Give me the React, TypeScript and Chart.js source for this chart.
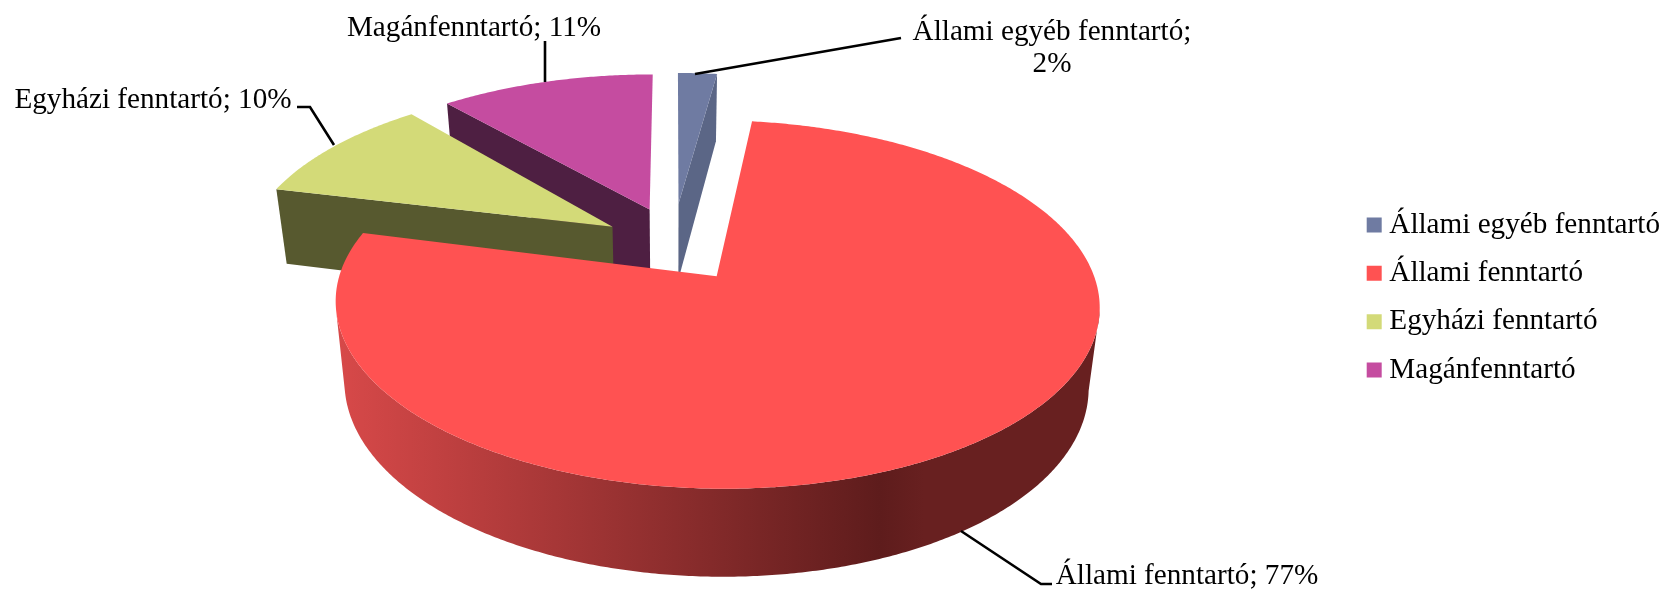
import React, { useEffect, useRef } from "react";
import { Chart, registerables } from "chart.js";

Chart.register(...registerables);

const categories = ["Állami egyéb fenntartó", "Állami fenntartó", "Egyházi fenntartó", "Magánfenntartó"];
const shares = [2, 77, 10, 11];

const topColors = ["#6F7BA2", "#FF5252", "#D3DA78", "#C54CA0"];
const sideColors = ["#5B6686", "#682020", "#57592F", "#4E1F42"];
const drawOrder = [0, 3, 2, 1];
const apexLift = [10, 0, 2, 6];

const FONT = '"Liberation Serif", "Times New Roman", serif';
const FONT_SIZE = 29.2;
const RADIUS = 368;
const EXPLODE = 74;
const CX = 674;
const CY = 247;
const RY = 171;
const PERSPECTIVE = 0.15;
const BOTTOM_SCALE = 0.974;
const WALL_FROM = 0.18;

const labelLayout = [
  { lines: ["Állami egyéb fenntartó;", "2%"], x: 1052, y: 32, lead: [[695, 74], [901, 38]] },
  { lines: ["Állami fenntartó; 77%"], x: 1187, y: 576, lead: [[961, 531], [1041, 584], [1052, 584]] },
  { lines: ["Egyházi fenntartó; 10%"], x: 153, y: 100, lead: [[297, 107], [310, 107], [334, 145]] },
  { lines: ["Magánfenntartó; 11%"], x: 474, y: 28, lead: [[545, 41], [545, 82]] },
];

type P = [number, number, number?];

function project(p: P, bottom: boolean): [number, number] {
  const [u, v, lift] = p;
  const w = 1 - PERSPECTIVE * v;
  let x = CX + (RADIUS * u) / w;
  let y = CY + (RY * v) / w - (lift || 0);
  if (bottom) {
    x = CX + (x - CX) * BOTTOM_SCALE;
    y += 136.7 - 59 * w;
  }
  return [x, y];
}

function fillWall(ctx: any, pts: P[], fill: any) {
  const top = pts.map((p) => project(p, false));
  const bot = pts.map((p) => project(p, true)).reverse();
  ctx.beginPath();
  [...top, ...bot].forEach((p, k) => (k ? ctx.lineTo(p[0], p[1]) : ctx.moveTo(p[0], p[1])));
  ctx.closePath();
  ctx.fillStyle = fill;
  ctx.fill();
}

const pie3d = {
  id: "pie3d",
  beforeDatasetDraw(chart: any, args: any) {
    const ctx = chart.ctx;
    const arcs = args.meta.data;
    for (const i of drawOrder) {
      const { startAngle, endAngle, outerRadius, options } = arcs[i];
      const mid = (startAngle + endAngle) / 2;
      const ou = (Math.cos(mid) * options.offset) / outerRadius;
      const ov = (Math.sin(mid) * options.offset) / outerRadius;
      const steps = Math.max(8, Math.ceil(((endAngle - startAngle) * 360) / Math.PI));
      const angles: number[] = [];
      for (let s = 0; s <= steps; s++) angles.push(startAngle + ((endAngle - startAngle) * s) / steps);
      const rim: P[] = angles.map((a) => [ou + Math.cos(a), ov + Math.sin(a)]);
      const center: P = [ou, ov, apexLift[i]];

      let wall: any = sideColors[i];
      if (i === 1) {
        const x0 = CX - RADIUS + 20;
        const x1 = CX + RADIUS + 50;
        const g = ctx.createLinearGradient(x0, 0, x1, 0);
        g.addColorStop(0, "#DA4A4A");
        g.addColorStop((CX + 206 - x0) / (x1 - x0), "#5E1C1C");
        g.addColorStop((CX + 250 - x0) / (x1 - x0), sideColors[1]);
        g.addColorStop(1, sideColors[1]);
        wall = g;
      }

      if (Math.sin(startAngle - Math.PI / 2) > 0.02) fillWall(ctx, [center, rim[0]], sideColors[i]);
      if (Math.sin(endAngle + Math.PI / 2) > 0.02) fillWall(ctx, [center, rim[rim.length - 1]], sideColors[i]);

      let run: P[] = [];
      angles.forEach((a, s) => {
        if (Math.sin(a) > WALL_FROM) run.push(rim[s]);
        else {
          if (run.length > 1) fillWall(ctx, run, wall);
          run = [];
        }
      });
      if (run.length > 1) fillWall(ctx, run, wall);

      ctx.beginPath();
      const c0 = project(center, false);
      ctx.moveTo(c0[0], c0[1]);
      for (const p of rim) {
        const t = project(p, false);
        ctx.lineTo(t[0], t[1]);
      }
      ctx.closePath();
      ctx.fillStyle = topColors[i];
      ctx.fill();
    }
    return false;
  },
  afterDraw(chart: any) {
    const ctx = chart.ctx;
    ctx.save();
    ctx.font = `${FONT_SIZE}px ${FONT}`;
    ctx.fillStyle = "#000000";
    ctx.textAlign = "center";
    ctx.textBaseline = "middle";
    ctx.strokeStyle = "#000000";
    ctx.lineWidth = 2.6;
    for (const l of labelLayout) {
      l.lines.forEach((t, k) => ctx.fillText(t, l.x, l.y + k * 32));
      ctx.beginPath();
      l.lead.forEach((p, k) => (k ? ctx.lineTo(p[0], p[1]) : ctx.moveTo(p[0], p[1])));
      ctx.stroke();
    }
    ctx.restore();
  },
};

export default function App() {
  const ref = useRef<HTMLCanvasElement>(null);
  useEffect(() => {
    const chart = new Chart(ref.current as HTMLCanvasElement, {
      type: "pie",
      data: {
        labels: categories,
        datasets: [
          {
            data: shares,
            backgroundColor: topColors,
            borderWidth: 0,
            offset: EXPLODE,
            radius: RADIUS,
            clip: false,
          } as any,
        ],
      },
      options: {
        responsive: false,
        animation: false,
        layout: { padding: { right: -4, top: 4 } },
        plugins: {
          tooltip: { enabled: false },
          legend: {
            position: "right",
            labels: {
              usePointStyle: true,
              pointStyle: "rect",
              boxWidth: 1,
              boxHeight: 15,
              padding: 48.4 - FONT_SIZE,
              color: "#000000",
              font: { family: FONT, size: FONT_SIZE },
            },
          },
        },
      },
      plugins: [pie3d],
    } as any);
    return () => chart.destroy();
  }, []);
  return (
    <div style={{ position: "fixed", left: 0, top: 0, width: 1666, height: 591, background: "#fff" }}>
      <canvas ref={ref} width={1666} height={591} style={{ display: "block" }} />
    </div>
  );
}
